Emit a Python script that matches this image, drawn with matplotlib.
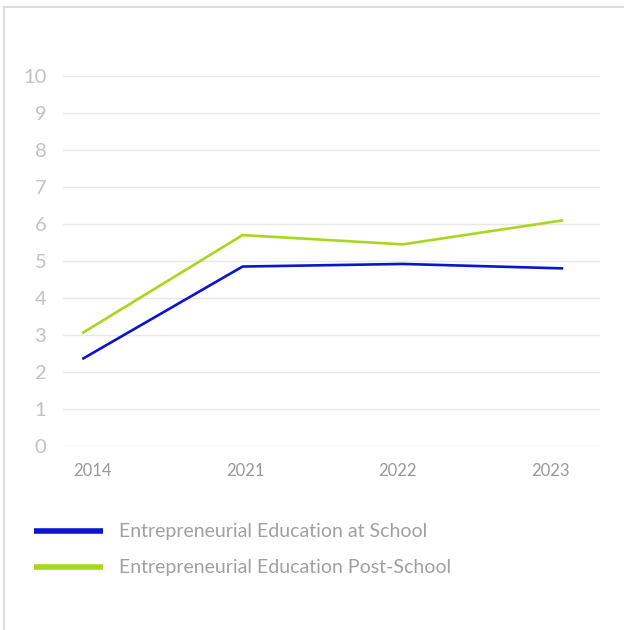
import matplotlib
matplotlib.use("Agg")
import matplotlib.pyplot as plt
from matplotlib.lines import Line2D

years = ["2014", "2021", "2022", "2023"]
at_school = [2.35, 4.85, 4.92, 4.80]
post_school = [3.05, 5.70, 5.45, 6.10]
series_labels = ["Entrepreneurial Education at School",
                 "Entrepreneurial Education Post-School"]
y_ticks = list(range(0, 11))

blue = "#0a14d2"
green = "#a6d81e"

plt.rcParams["font.family"] = ["Lato", "DejaVu Sans"]

W, H = 624, 630
fig = plt.figure(figsize=(W / 100, H / 100), dpi=100)

# axes box in pixel terms
left, right, top, bottom = 63, 600, 76, 446
ax = fig.add_axes([left / W, 1 - bottom / H, (right - left) / W, (bottom - top) / H])

x = list(range(len(years)))
ax.plot(x, at_school, color=blue, lw=1.9, solid_capstyle="butt", zorder=3)
ax.plot(x, post_school, color=green, lw=1.9, solid_capstyle="butt", zorder=3)

ax.set_xlim(-0.12, 3.23)
ax.set_ylim(0, 10)
ax.set_yticks(y_ticks)
ax.set_yticklabels([str(t) for t in y_ticks])
# category labels sit on a slightly narrower band than the points
label_pos = [0.0625 + 0.953 * i for i in x]
ax.set_xticks(label_pos)
ax.set_xticklabels(years)
ax.grid(axis="y", color="#e8e8e8", lw=1.0)
ax.grid(axis="x", visible=False)
ax.set_axisbelow(True)
for s in ax.spines.values():
    s.set_visible(False)
ax.tick_params(axis="y", length=0, pad=12, labelsize=14.5, labelcolor="#c2c2c2")
ax.tick_params(axis="x", length=0, pad=12, labelsize=12, labelcolor="#999999")

# outer frame: top and left edges
fig.add_artist(Line2D([4 / W, 1], [1 - 7 / H, 1 - 7 / H], color="#dddddd", lw=1.5,
                      transform=fig.transFigure))
fig.add_artist(Line2D([4 / W, 4 / W], [0, 1 - 7 / H], color="#dddddd", lw=1.5,
                      transform=fig.transFigure))

# legend
for i, (lab, col) in enumerate(zip(series_labels, [blue, green])):
    yy = 1 - (531 + 36 * i) / H
    fig.add_artist(Line2D([34 / W, 103 / W], [yy, yy], color=col, lw=4,
                          solid_capstyle="butt", transform=fig.transFigure))
    fig.text(119 / W, yy, lab, color="#a0a0a0", fontsize=14, va="center", ha="left")

fig.savefig("out.png", dpi=100)
